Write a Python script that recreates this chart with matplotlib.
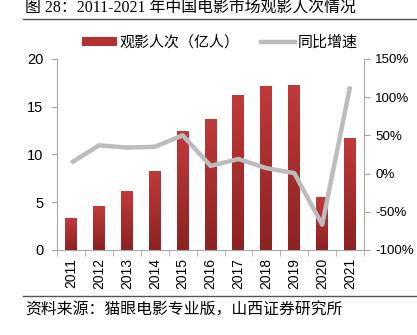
import numpy as np
import matplotlib.pyplot as plt
from matplotlib.colors import LinearSegmentedColormap
from matplotlib.lines import Line2D
from matplotlib.patches import Patch

plt.rcParams['font.family'] = ['Liberation Sans', 'Noto Sans CJK SC']

years = ['2011', '2012', '2013', '2014', '2015', '2016', '2017', '2018', '2019', '2020', '2021']
viewers = [3.3, 4.55, 6.2, 8.3, 12.45, 13.7, 16.2, 17.2, 17.3, 5.55, 11.75]   # 亿人
growth = [14, 37, 34, 35, 50, 10, 19, 7, 0.5, -67, 114]                       # %

fig = plt.figure(figsize=(4.17, 3.35), dpi=100)
ax = fig.add_axes([0.137, 0.254, 0.736, 0.570])
ax2 = ax.twinx()

x = np.arange(len(years))
w = 0.43
# 渐变红色柱
cmap = LinearSegmentedColormap.from_list('rd', ['#8c2222', '#c13a3a'])
grad = np.linspace(0, 1, 256).reshape(-1, 1)
bars = ax.bar(x, viewers, width=w, color='none', zorder=2)
for b in bars:
    x0, y0 = b.get_x(), b.get_y()
    im = ax.imshow(grad, cmap=cmap, aspect='auto', origin='lower',
                   extent=[x0, x0 + b.get_width(), y0, y0 + b.get_height()], zorder=2)
    im.set_clip_path(b)
ax.set_xlim(-0.5, len(years) - 0.5)
ax.set_ylim(0, 20)
ax.set_yticks([0, 5, 10, 15, 20])

ax2.plot(x, growth, color='#bcbcbc', lw=3.2, solid_capstyle='butt', zorder=3)
ax2.set_ylim(-100, 150)
ax2.set_yticks([-100, -50, 0, 50, 100, 150])
ax2.set_yticklabels([f'{v}%' for v in [-100, -50, 0, 50, 100, 150]])

ax.set_xticks(x)
ax.set_xticklabels(years, rotation=90)
ax.set_xticks(np.arange(-0.5, len(years), 1), minor=True)
ax.tick_params(axis='x', which='major', length=0, pad=6, labelsize=10)
ax.tick_params(axis='x', which='minor', length=4, color='#a6a6a6')
ax.tick_params(axis='y', length=4, color='#a6a6a6', labelsize=10.5, pad=6)
ax2.tick_params(axis='y', length=4, color='#a6a6a6', labelsize=9.6, pad=4)

for a in (ax, ax2):
    a.spines['top'].set_visible(False)
    for s in ('left', 'right', 'bottom'):
        a.spines[s].set_color('#a6a6a6')
ax.spines['right'].set_visible(False)
ax2.spines['left'].set_visible(False)
ax2.spines['bottom'].set_visible(False)

handles = [Patch(facecolor='#b53030', label='观影人次（亿人）'),
           Line2D([0], [0], color='#bcbcbc', lw=3.2, label='同比增速')]
fig.legend(handles=handles, loc='center', bbox_to_anchor=(0.528, 0.873), ncol=2,
           frameon=False, handlelength=2.3, handleheight=0.55,
           columnspacing=1.4, handletextpad=0.2, prop={'family': ['Noto Sans CJK SC'], 'size': 10.8})

fig.text(0.06, 0.975, '图 28：2011-2021 年中国电影市场观影人次情况', ha='left', va='center',
         fontsize=11.4, family=['Liberation Serif', 'Noto Sans CJK SC'])
fig.add_artist(Line2D([0.055, 1.0], [0.943, 0.943], color='#555555', lw=1.0))
fig.add_artist(Line2D([0.055, 1.0], [0.117, 0.117], color='#555555', lw=1.0))
fig.text(0.06, 0.075, '资料来源：猫眼电影专业版，山西证券研究所', ha='left', va='center',
         fontsize=11.4, family=['Noto Sans CJK SC'])

fig.savefig('out.png', dpi=100)
